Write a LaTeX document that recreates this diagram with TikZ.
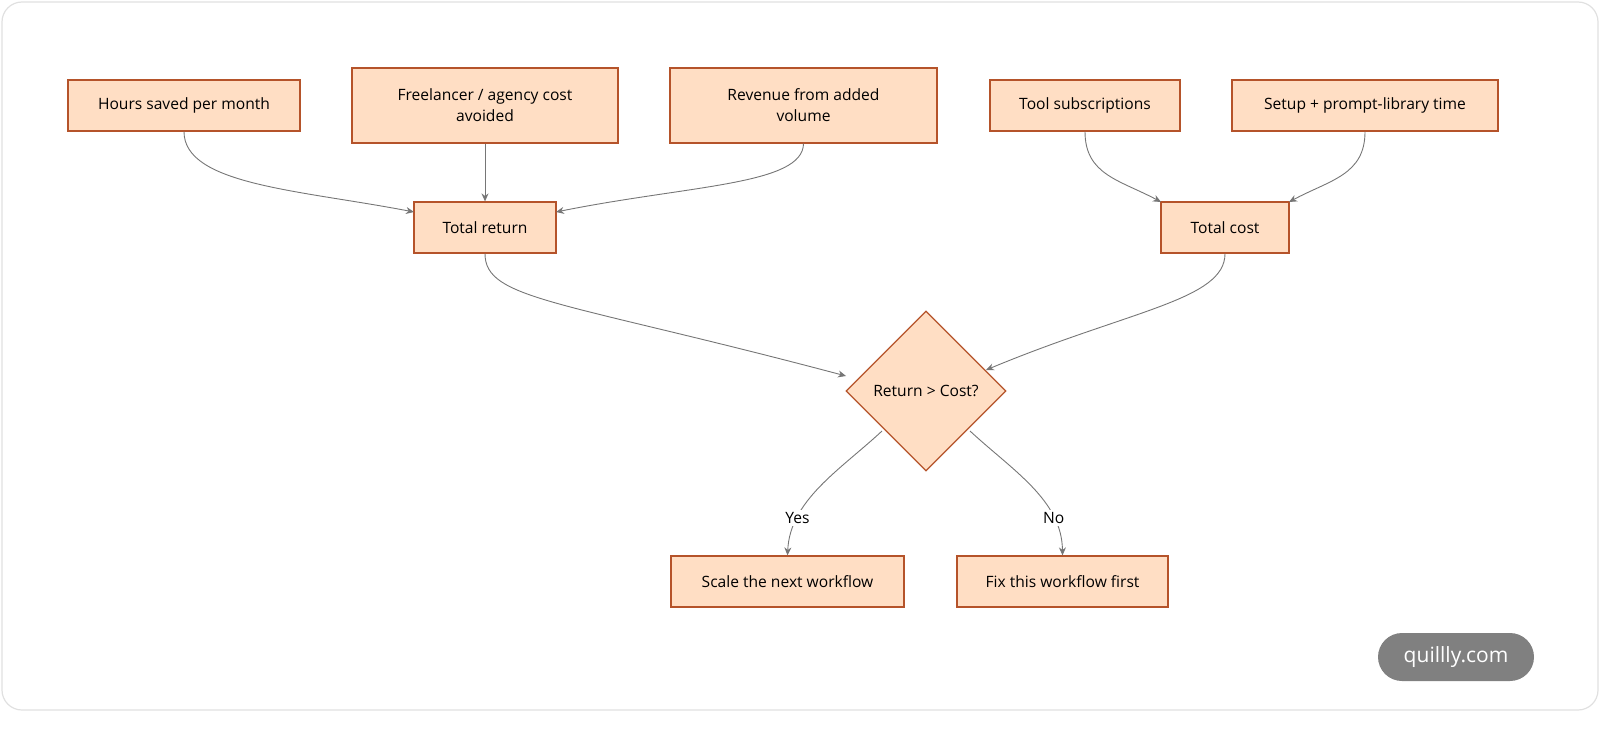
\documentclass[tikz,border=0pt]{standalone}
\usepackage{fontspec}
\setmainfont{Open Sans}
\usetikzlibrary{shapes.geometric,arrows.meta}
\definecolor{boxfill}{HTML}{FFDEC4}
\definecolor{boxdraw}{HTML}{B5532A}
\definecolor{edge}{HTML}{767676}
\begin{document}
\begin{tikzpicture}[x=0.5pt,y=-0.5pt,
  box/.style={draw=boxdraw,fill=boxfill,line width=0.6pt,align=center,font=\fontsize{7.8}{10.5}\selectfont,inner sep=0pt},
  dia/.style={diamond,draw=boxdraw,fill=boxfill,line width=0.6pt,font=\fontsize{7.8}{10.5}\selectfont,minimum width=80pt,minimum height=80pt,inner sep=0pt},
  conn/.style={draw=edge,line width=0.45pt,-{Stealth[length=4pt,width=3.5pt]}},
  lbl/.style={font=\fontsize{7.8}{10.5}\selectfont,fill=white,inner sep=1pt}]
\useasboundingbox (0,0) rectangle (1600,728);
\draw[draw=black!12,line width=0.6pt,rounded corners=10pt] (2,2) rectangle (1598,710);
\node[box,minimum width=116pt,minimum height=25.5pt] (hrs) at (184,105.5) {Hours saved per month};
\node[box,minimum width=133pt,minimum height=37.5pt] (free) at (485,105.5) {Freelancer / agency cost\\avoided};
\node[box,minimum width=133.5pt,minimum height=37.5pt] (rev) at (803.5,105.5) {Revenue from added\\volume};
\node[box,minimum width=95pt,minimum height=25.5pt] (tool) at (1085,105.5) {Tool subscriptions};
\node[box,minimum width=133pt,minimum height=25.5pt] (setup) at (1365,105.5) {Setup + prompt-library time};
\node[box,minimum width=71pt,minimum height=25.5pt] (ret) at (485,227.5) {Total return};
\node[box,minimum width=64pt,minimum height=25.5pt] (cost) at (1225,227.5) {Total cost};
\node[dia] (q) at (926,391) {Return > Cost?};
\node[box,minimum width=116.5pt,minimum height=25.5pt] (scale) at (787.5,581.5) {Scale the next workflow};
\node[box,minimum width=105.5pt,minimum height=25.5pt] (fix) at (1062.5,581.5) {Fix this workflow first};
\node[fill=black!50,text=white,rounded corners=12pt,minimum width=78pt,minimum height=24pt,font=\fontsize{10.5}{12}\selectfont] (badge) at (1456,657) {quillly.com};
\coordinate (retL) at (414,212);
\coordinate (retR) at (556,212);
\coordinate (costL) at (1161,202);
\coordinate (costR) at (1289,202);
\coordinate (qL) at (846,376);
\coordinate (qR) at (986,370);
\coordinate (qBL) at (882,431);
\coordinate (qBR) at (970,431);
\draw[conn] (hrs.south) .. controls (184,185) and (300,190) .. (retL);
\draw[conn] (free.south) -- (ret.north);
\draw[conn] (rev.south) .. controls (803,185) and (690,185) .. (retR);
\draw[conn] (tool.south) .. controls (1085,175) and (1120,180) .. (costL);
\draw[conn] (setup.south) .. controls (1365,175) and (1330,180) .. (costR);
\draw[conn] (ret.south) .. controls (485,300) and (560,300) .. (qL);
\draw[conn] (cost.south) .. controls (1225,300) and (1130,310) .. (qR);
\draw[conn] (qBL) .. controls (840,470) and (790,500) .. (scale.north) node[lbl,pos=0.75] {Yes};
\draw[conn] (qBR) .. controls (1012,470) and (1062,500) .. (fix.north) node[lbl,pos=0.75] {No};
\end{tikzpicture}
\end{document}
